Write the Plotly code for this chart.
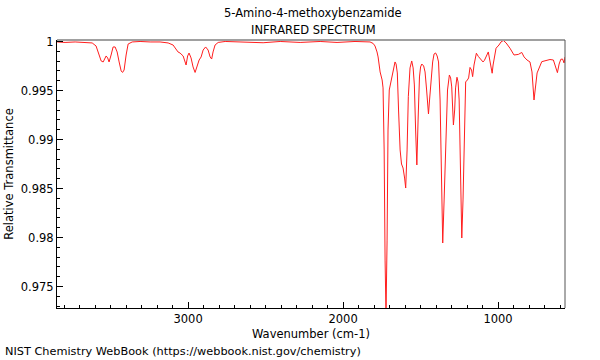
import plotly.graph_objects as go

wavenumber = [3845, 3794, 3729, 3665, 3619, 3594, 3574, 3561, 3548, 3535, 3529, 3519, 3510, 3497, 3484,
              3471, 3458, 3445, 3432, 3423, 3413, 3400, 3387, 3361, 3310, 3245, 3181, 3129, 3097, 3065,
              3052, 3032, 3019, 3013, 3003, 2994, 2981, 2968, 2955, 2942, 2929, 2916, 2903, 2887, 2871,
              2858, 2848, 2839, 2826, 2806, 2761, 2665, 2600, 2516, 2406, 2277, 2148, 2039, 1923, 1858,
              1826, 1806, 1794, 1781, 1774, 1761, 1748, 1742, 1735, 1729, 1723, 1716, 1710, 1702, 1686,
              1671, 1665, 1658, 1650, 1642, 1632, 1623, 1613, 1603, 1596, 1587, 1579, 1568, 1557, 1548,
              1540, 1532, 1524, 1516, 1507, 1500, 1492, 1480, 1471, 1461, 1449, 1442, 1434, 1422, 1413,
              1403, 1393, 1384, 1374, 1364, 1357, 1348, 1335, 1326, 1314, 1306, 1299, 1293, 1288, 1280,
              1274, 1265, 1258, 1251, 1242, 1234, 1226, 1216, 1209, 1198, 1190, 1181, 1171, 1164, 1155,
              1140, 1127, 1097, 1088, 1063, 1052, 1038, 1032, 1013, 994, 981, 966, 948, 923, 897,
              869, 847, 832, 813, 794, 781, 768, 758, 748, 718, 686, 665, 643, 629, 617,
              606, 595, 584, 574, 568]
transmittance = [0.99995, 0.9999, 0.99995, 0.9999, 0.99985, 0.99954, 0.99862, 0.99801, 0.99791, 0.99832, 0.99852, 0.99832, 0.99791, 0.99862, 0.99944,
                 0.99944, 0.99893, 0.99791, 0.99699, 0.99684, 0.99709, 0.99862, 0.99974, 0.99995, 1.0, 0.99995, 0.99995, 0.99985, 0.99964, 0.99893,
                 0.99882, 0.99852, 0.99791, 0.9976, 0.99852, 0.99882, 0.99832, 0.9974, 0.99684, 0.9975, 0.99811, 0.99842, 0.99913, 0.99944, 0.99913,
                 0.99842, 0.99821, 0.99893, 0.99964, 0.9999, 1.0, 0.99995, 0.9999, 0.99987, 1.0, 0.9999, 1.0, 0.9999, 1.0, 1.0,
                 0.99995, 0.9998, 0.99954, 0.99893, 0.99842, 0.99689, 0.99607, 0.99526, 0.98893, 0.9777, 0.97209, 0.97974, 0.99097, 0.99505, 0.99641,
                 0.9977, 0.99791, 0.9977, 0.99679, 0.99301, 0.98893, 0.9875, 0.98709, 0.98607, 0.98505, 0.98893, 0.99437, 0.9973, 0.99801, 0.9973,
                 0.99556, 0.99097, 0.9874, 0.99199, 0.99638, 0.9974, 0.9977, 0.9975, 0.99689, 0.99505, 0.9926, 0.99403, 0.99607, 0.99791, 0.99872,
                 0.99883, 0.99852, 0.99791, 0.99403, 0.98383, 0.97944, 0.98383, 0.99097, 0.99505, 0.99658, 0.99628, 0.99536, 0.99352, 0.99148, 0.99301,
                 0.99526, 0.99635, 0.99587, 0.99403, 0.98689, 0.97995, 0.98383, 0.99301, 0.99587, 0.99607, 0.99628, 0.99735, 0.99709, 0.99641, 0.9976,
                 0.9988, 0.99847, 0.99791, 0.99807, 0.99893, 0.99811, 0.99676, 0.9976, 0.99931, 0.99964, 0.99995, 1.0001, 0.99985, 0.99931, 0.99862,
                 0.99868, 0.99888, 0.99842, 0.99811, 0.99791, 0.99689, 0.99403, 0.99556, 0.99679, 0.99794, 0.99811, 0.99816, 0.99811, 0.9975, 0.99682,
                 0.9977, 0.99818, 0.99821, 0.99781, 0.99842]

x_tick_vals = [3000, 2000, 1000]
x_tick_text = ["3000", "2000", "1000"]
y_tick_vals = [1.0, 0.995, 0.99, 0.985, 0.98, 0.975]
y_tick_text = ["1", "0.995", "0.99", "0.985", "0.98", "0.975"]

title_line1 = "5-Amino-4-methoxybenzamide"
title_line2 = "INFRARED SPECTRUM"
x_title = "Wavenumber (cm-1)"
y_title = "Relative Transmittance"
footer = "NIST Chemistry WebBook (https://webbook.nist.gov/chemistry)"

FONT = "DejaVu Sans, Arial, sans-serif"
FS = 11.5

fig = go.Figure()
fig.add_trace(go.Scatter(x=wavenumber, y=transmittance, mode="lines",
                         line=dict(color="rgb(255,30,30)", width=1), showlegend=False,
                         hoverinfo="skip"))

fig.update_layout(
    width=600, height=360,
    margin=dict(l=57, r=35, t=40, b=52, autoexpand=False),
    paper_bgcolor="white", plot_bgcolor="white",
    font=dict(family=FONT, size=FS, color="black"),
    xaxis=dict(range=[3846, 568], showgrid=False, zeroline=False,
               tickmode="array", tickvals=x_tick_vals, ticktext=x_tick_text,
               ticks="inside", ticklen=6, tickcolor="black", tickwidth=1,
               showline=True, linecolor="black", linewidth=1,
               minor=dict(dtick=100, tick0=0, ticks="inside", ticklen=3, tickcolor="black", showgrid=False),
               title=dict(text=x_title, standoff=5, font=dict(family=FONT, size=FS)),
               tickfont=dict(family=FONT, size=FS)),
    yaxis=dict(range=[0.97281, 1.00015], showgrid=False, zeroline=False,
               tickmode="array", tickvals=y_tick_vals, ticktext=y_tick_text,
               ticks="inside", ticklen=6, tickcolor="black", tickwidth=1,
               showline=True, linecolor="black", linewidth=1,
               minor=dict(dtick=0.001, tick0=0, ticks="inside", ticklen=3, tickcolor="black", showgrid=False),
               title=dict(text=y_title, standoff=4, font=dict(family=FONT, size=FS)),
               tickfont=dict(family=FONT, size=FS)),
)

# frame: light gray top edge, dark right edge
fig.add_shape(type="line", xref="paper", yref="paper", x0=0, x1=1, y0=1, y1=1,
              line=dict(color="#a0a0a0", width=2))
fig.add_shape(type="line", xref="paper", yref="paper", x0=1, x1=1, y0=0, y1=1,
              line=dict(color="#555555", width=1))

fig.add_annotation(text=title_line1, xref="paper", yref="paper", x=0.504, y=1.1007,
                   xanchor="center", yanchor="middle", showarrow=False,
                   font=dict(family=FONT, size=FS, color="black"))
fig.add_annotation(text=title_line2, xref="paper", yref="paper", x=0.504, y=1.0373,
                   xanchor="center", yanchor="middle", showarrow=False,
                   font=dict(family=FONT, size=FS, color="black"))
fig.add_annotation(text=footer, xref="paper", yref="paper", x=-0.106, y=-0.164,
                   xanchor="left", yanchor="middle", showarrow=False,
                   font=dict(family=FONT, size=11.3, color="black"))

fig.write_html("out.html", config={"displayModeBar": False},
               post_script="document.body.style.margin='0';document.body.style.overflow='hidden';")
